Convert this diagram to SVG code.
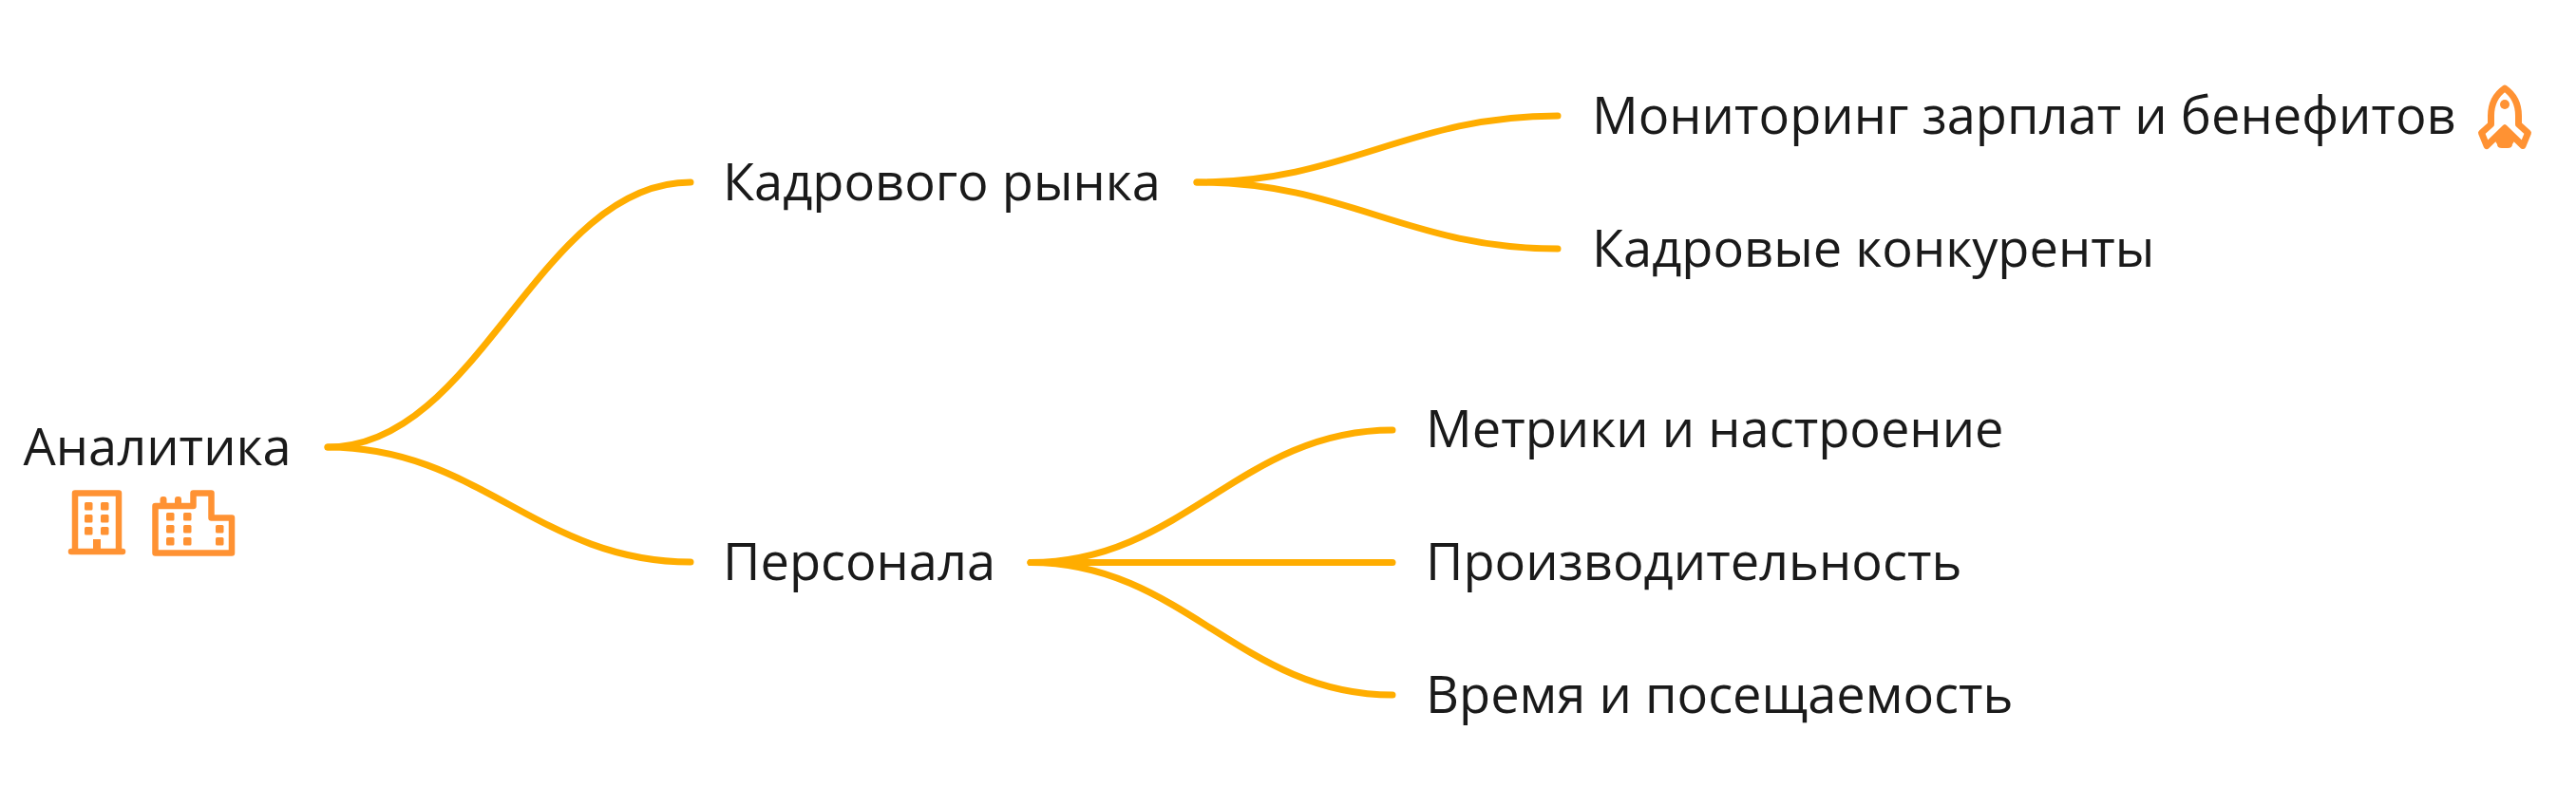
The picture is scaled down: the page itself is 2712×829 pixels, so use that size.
<svg xmlns="http://www.w3.org/2000/svg" width="2712" height="829" viewBox="0 0 2712 829">
<style>
text{font-family:"Open Sans","Noto Sans",sans-serif;font-size:54.2px;fill:#1a1a1a}
.c{fill:none;stroke:#ffad00;stroke-width:7;stroke-linecap:round}
.i{fill:none;stroke:#ff9233;stroke-width:6.5;stroke-linejoin:round;stroke-linecap:round}
.f{fill:#ff9233}
</style>
<defs>
<rect id="w" class="f" width="8.500" height="8.500" rx="1.500"/>
</defs>
<rect width="2712" height="829" fill="#fff"/>
<g id="connectors">
<path class="c" d="M345 471C505 471 567 192 727 192"/>
<path class="c" d="M345 471C505 471 567 592 727 592"/>
<path class="c" d="M1260 192C1418 192 1482 122 1640 122"/>
<path class="c" d="M1260 192C1418 192 1482 262 1640 262"/>
<path class="c" d="M1085 592.500C1245 592.500 1306 453 1466 453"/>
<path class="c" d="M1085 592.500H1466"/>
<path class="c" d="M1085 592.500C1245 592.500 1306 732 1466 732"/>
</g>
<g id="root"><text x="24.500" y="490">Аналитика</text>
<g id="icon-building">
<path class="i" d="M79 579V519.500H125V579"/>
<path class="i" d="M75 581H129"/>
<rect class="f" x="98" y="568" width="8" height="13"/>
<use href="#w" x="89" y="529"/><use href="#w" x="106" y="529"/>
<use href="#w" x="89" y="542"/><use href="#w" x="106" y="542"/>
<use href="#w" x="89" y="555"/><use href="#w" x="106" y="555"/>
</g>
<g id="icon-factory">
<path class="i" d="M163.500 533H203.500V519.500H222.500V545.500H244V582.500H163.500Z"/>
<rect class="f" x="168.500" y="523" width="7" height="10" rx="3"/>
<rect class="f" x="184" y="523" width="7" height="10" rx="3"/>
<use href="#w" x="175" y="540"/><use href="#w" x="193" y="540"/>
<use href="#w" x="175" y="553"/><use href="#w" x="193" y="553"/><use href="#w" x="227" y="553"/>
<use href="#w" x="175" y="566"/><use href="#w" x="193" y="566"/><use href="#w" x="227" y="566"/>
</g></g>
<g id="n1"><text x="761" y="211">Кадрового рынка</text></g>
<g id="n2"><text x="761" y="611">Персонала</text></g>
<g id="n3"><text x="1676" y="141">Мониторинг зарплат и бенефитов</text>
<g id="icon-rocket">
<path class="i" style="stroke-width:7" d="M2637 93C2647 100 2651.500 111 2651.500 122V131L2661.500 140L2656 153.500L2637 135L2618 153.500L2612.500 140L2622.500 131V122C2622.500 111 2627 100 2637 93Z"/>
<circle class="f" cx="2637" cy="110" r="5"/>
<path class="f" d="M2637 131L2650 144L2645 152Q2645 156 2640 156H2634Q2629 156 2629 152L2624 144Z"/>
</g></g>
<g id="n4"><text x="1676" y="281">Кадровые конкуренты</text></g>
<g id="n5"><text x="1501" y="471">Метрики и настроение</text></g>
<g id="n6"><text x="1501" y="611">Производительность</text></g>
<g id="n7"><text x="1501" y="751">Время и посещаемость</text></g>
</svg>
